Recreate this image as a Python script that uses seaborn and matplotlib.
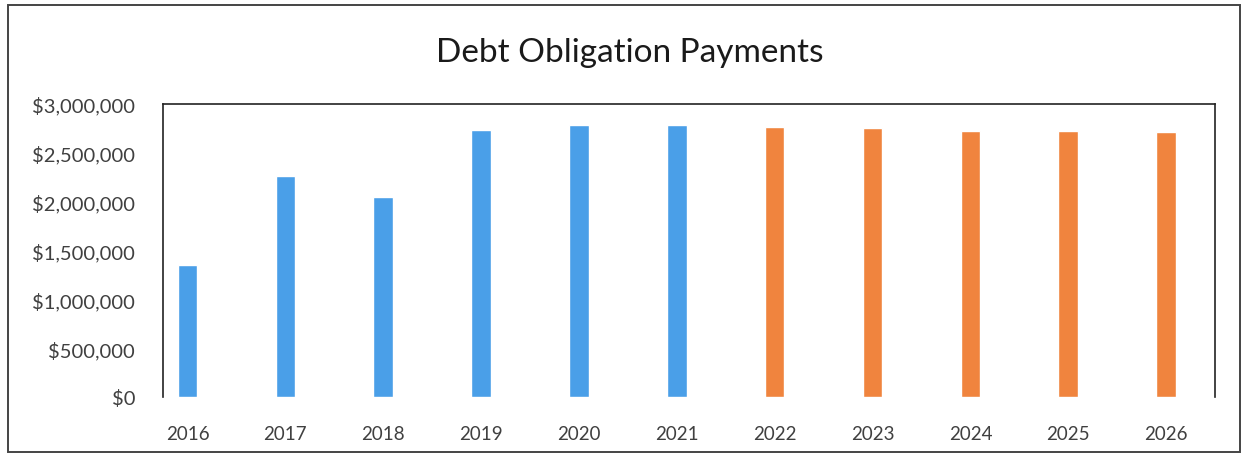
import matplotlib
matplotlib.use("Agg")
import matplotlib.pyplot as plt
import matplotlib.ticker as mticker
import seaborn as sns
import pandas as pd

years = ["2016", "2017", "2018", "2019", "2020", "2021", "2022", "2023", "2024", "2025", "2026"]
payments = [1350000, 2260000, 2050000, 2735000, 2785000, 2785000, 2765000, 2755000, 2725000, 2720000, 2710000]
period = ["Actual"] * 6 + ["Projected"] * 5
colors = {"Actual": "#4a9fe8", "Projected": "#f0843e"}

df = pd.DataFrame({"Year": years, "Payment": payments, "Period": period})

sns.set_style("white")
plt.rcParams["font.family"] = ["Lato", "DejaVu Sans"]

fig = plt.figure(figsize=(12.48, 4.6), dpi=100)
ax = fig.add_axes([0.1306, 0.1348, 0.8430, 0.6370])

sns.barplot(data=df, x="Year", y="Payment", hue="Period", palette=colors,
            dodge=False, width=0.2, saturation=1, legend=False, ax=ax)

ax.set_xlim(-0.25, 10.5)
ax.set_ylim(0, 3000000)
ax.set_yticks([0, 500000, 1000000, 1500000, 2000000, 2500000, 3000000])
ax.yaxis.set_major_formatter(mticker.FuncFormatter(lambda v, p: f"${v:,.0f}"))
ax.set_xlabel("")
ax.set_ylabel("")
ax.tick_params(axis="both", length=0, colors="#404040")
ax.tick_params(axis="x", pad=20, labelsize=13.5)
ax.tick_params(axis="y", pad=20, labelsize=14.5)
for s in ["top", "right", "left"]:
    ax.spines[s].set_visible(True)
    ax.spines[s].set_color("#222222")
    ax.spines[s].set_linewidth(1.2)
ax.spines["bottom"].set_visible(False)

fig.text(0.505, 0.885, "Debt Obligation Payments", ha="center", va="center",
         fontsize=24, color="#1a1a1a")

border = plt.Rectangle((0.0065, 0.015), 0.987, 0.972, transform=fig.transFigure,
                       fill=False, edgecolor="#444444", linewidth=1.4)
fig.patches.append(border)

fig.savefig("out.png", dpi=100)
